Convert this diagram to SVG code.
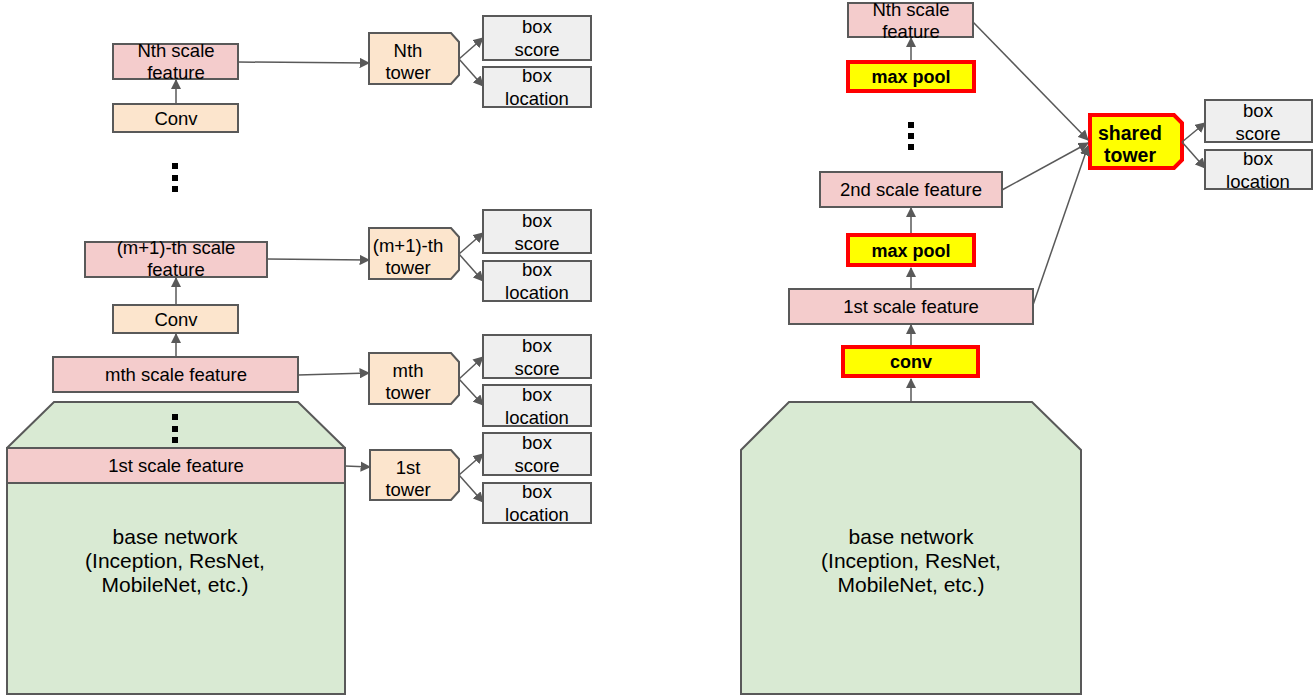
<svg xmlns="http://www.w3.org/2000/svg" width="1315" height="696" viewBox="0 0 1315 696">
<style>
text{font-family:"Liberation Sans",Arial,sans-serif;font-size:18.5px;fill:#000;text-anchor:middle}
.b{font-weight:bold;font-size:18px}
.s{font-weight:bold;font-size:19.5px}
.bn{font-size:21px}
.feat{fill:#f4cccc;stroke:#595959;stroke-width:2}
.conv{fill:#fce5cd;stroke:#595959;stroke-width:2}
.box{fill:#efefef;stroke:#595959;stroke-width:2}
.base{fill:#d9ead3;stroke:#595959;stroke-width:2}
.hl{fill:#ffff00;stroke:#ff0000;stroke-width:4}
.dot{fill:#000}
.ln{stroke:#595959;stroke-width:1.5;fill:none;marker-end:url(#ah)}
</style>
<defs>
<marker id="ah" viewBox="0 0 10 10" refX="9" refY="5" markerWidth="7" markerHeight="7" markerUnits="strokeWidth" orient="auto">
<path d="M0,0 L10,5 L0,10 z" fill="#595959"/>
</marker>
</defs>

<!-- LEFT -->
<g id="left-base">
<path class="base" d="M54,402 L298,402 L345,448 L345,694 L7,694 L7,448 z"/>
<text class="bn" x="175" y="544">base network</text>
<text class="bn" x="175" y="568">(Inception, ResNet,</text>
<text class="bn" x="175" y="592">MobileNet, etc.)</text>
</g>
<g id="left-dots-bottom">
<rect class="dot" x="172" y="414" width="6" height="6"/>
<rect class="dot" x="172" y="426" width="6" height="6"/>
<rect class="dot" x="172" y="437" width="6" height="6"/>
</g>
<g id="left-dots-top">
<rect class="dot" x="172" y="163" width="6" height="6"/>
<rect class="dot" x="172" y="175" width="6" height="6"/>
<rect class="dot" x="172" y="186" width="6" height="6"/>
</g>
<g id="l-feat1"><rect class="feat" x="7" y="448" width="338" height="35"/><text x="176" y="472">1st scale feature</text></g>
<g id="l-featm"><rect class="feat" x="53" y="357" width="245" height="35"/><text x="176" y="381">mth scale feature</text></g>
<g id="l-conv2"><rect class="conv" x="113" y="305" width="125" height="28"/><text x="176" y="326">Conv</text></g>
<g id="l-featm1"><rect class="feat" x="85" y="242" width="182" height="35"/><text x="176" y="254">(m+1)-th scale</text><text x="176" y="276">feature</text></g>
<g id="l-conv1"><rect class="conv" x="113" y="104" width="125" height="28"/><text x="176" y="125">Conv</text></g>
<g id="l-featN"><rect class="feat" x="113" y="44" width="125" height="35"/><text x="176" y="57">Nth scale</text><text x="176" y="79">feature</text></g>

<g id="l-towerN"><path class="conv" d="M369,33 L451,33 L459,42 L459,75 L451,84 L369,84 z"/><text x="408" y="57">Nth</text><text x="408" y="79">tower</text></g>
<g id="l-towerm1"><path class="conv" d="M369,228 L451,228 L459,237 L459,270 L451,279 L369,279 z"/><text x="408" y="252">(m+1)-th</text><text x="408" y="274">tower</text></g>
<g id="l-towerm"><path class="conv" d="M369,353 L451,353 L459,362 L459,395 L451,404 L369,404 z"/><text x="408" y="377">mth</text><text x="408" y="399">tower</text></g>
<g id="l-tower1"><path class="conv" d="M370,450 L451,450 L459,459 L459,491 L451,500 L370,500 z"/><text x="408" y="474">1st</text><text x="408" y="496">tower</text></g>

<g id="l-scoreN"><rect class="box" x="483" y="16" width="108" height="44"/><text x="537" y="33">box</text><text x="537" y="56">score</text></g>
<g id="l-locN"><rect class="box" x="483" y="67" width="108" height="40"/><text x="537" y="82">box</text><text x="537" y="105">location</text></g>
<g id="l-scorem1"><rect class="box" x="483" y="210" width="108" height="43"/><text x="537" y="227">box</text><text x="537" y="250">score</text></g>
<g id="l-locm1"><rect class="box" x="483" y="261" width="108" height="40"/><text x="537" y="276">box</text><text x="537" y="299">location</text></g>
<g id="l-scorem"><rect class="box" x="483" y="335" width="108" height="43"/><text x="537" y="352">box</text><text x="537" y="375">score</text></g>
<g id="l-locm"><rect class="box" x="483" y="385" width="108" height="41"/><text x="537" y="401">box</text><text x="537" y="424">location</text></g>
<g id="l-score1"><rect class="box" x="483" y="433" width="108" height="42"/><text x="537" y="449">box</text><text x="537" y="472">score</text></g>
<g id="l-loc1"><rect class="box" x="483" y="483" width="108" height="40"/><text x="537" y="498">box</text><text x="537" y="521">location</text></g>

<!-- RIGHT -->
<g id="r-base">
<path class="base" d="M789,402 L1032,402 L1081,450 L1081,694 L741,694 L741,450 z"/>
<text class="bn" x="911" y="544">base network</text>
<text class="bn" x="911" y="568">(Inception, ResNet,</text>
<text class="bn" x="911" y="592">MobileNet, etc.)</text>
</g>
<g id="r-conv"><rect class="hl" x="843" y="347" width="135" height="29"/><text class="b" x="911" y="368">conv</text></g>
<g id="r-feat1"><rect class="feat" x="789" y="289" width="244" height="35"/><text x="911" y="313">1st scale feature</text></g>
<g id="r-pool2"><rect class="hl" x="848" y="235" width="126" height="30"/><text class="b" x="911" y="257">max pool</text></g>
<g id="r-feat2"><rect class="feat" x="820" y="172" width="182" height="35"/><text x="911" y="196">2nd scale feature</text></g>
<g id="r-dots">
<rect class="dot" x="908" y="122" width="6" height="6"/>
<rect class="dot" x="908" y="133" width="6" height="6"/>
<rect class="dot" x="908" y="144" width="6" height="6"/>
</g>
<g id="r-poolN"><rect class="hl" x="848" y="62" width="126" height="29"/><text class="b" x="911" y="83">max pool</text></g>
<g id="r-featN"><rect class="feat" x="848" y="3" width="125" height="34"/><text x="911" y="16">Nth scale</text><text x="911" y="38">feature</text></g>
<g id="r-tower"><path class="hl" d="M1090,115 L1174,115 L1182,123 L1182,160 L1174,168 L1090,168 z"/><text class="s" x="1130" y="140">shared</text><text class="s" x="1130" y="162">tower</text></g>
<g id="r-score"><rect class="box" x="1205" y="100" width="107" height="42"/><text x="1258" y="117">box</text><text x="1258" y="140">score</text></g>
<g id="r-loc"><rect class="box" x="1205" y="150" width="107" height="39"/><text x="1258" y="165">box</text><text x="1258" y="188">location</text></g>

<g id="connectors">
<line class="ln" x1="176" y1="104" x2="176" y2="80"/>
<line class="ln" x1="176" y1="305" x2="176" y2="278"/>
<line class="ln" x1="176" y1="357" x2="176" y2="334"/>
<line class="ln" x1="238" y1="62" x2="369" y2="63"/>
<line class="ln" x1="267" y1="259" x2="369" y2="260"/>
<line class="ln" x1="298" y1="375" x2="369" y2="373"/>
<line class="ln" x1="345" y1="466" x2="370" y2="467"/>
<line class="ln" x1="459" y1="59" x2="483" y2="38"/>
<line class="ln" x1="459" y1="59" x2="483" y2="86"/>
<line class="ln" x1="459" y1="254" x2="483" y2="233"/>
<line class="ln" x1="459" y1="254" x2="483" y2="281"/>
<line class="ln" x1="459" y1="379" x2="483" y2="357"/>
<line class="ln" x1="459" y1="379" x2="483" y2="405"/>
<line class="ln" x1="459" y1="475" x2="483" y2="454"/>
<line class="ln" x1="459" y1="475" x2="483" y2="502"/>
<line class="ln" x1="911" y1="402" x2="911" y2="379"/>
<line class="ln" x1="911" y1="345" x2="911" y2="325"/>
<line class="ln" x1="911" y1="289" x2="911" y2="268"/>
<line class="ln" x1="911" y1="233" x2="911" y2="208"/>
<line class="ln" x1="911" y1="60" x2="911" y2="38"/>
<line class="ln" x1="973" y1="22" x2="1088" y2="140"/>
<line class="ln" x1="1002" y1="190" x2="1088" y2="143"/>
<line class="ln" x1="1033" y1="305" x2="1088" y2="146"/>
<line class="ln" x1="1182" y1="142" x2="1205" y2="123"/>
<line class="ln" x1="1182" y1="142" x2="1205" y2="168"/>
</g>
</svg>
